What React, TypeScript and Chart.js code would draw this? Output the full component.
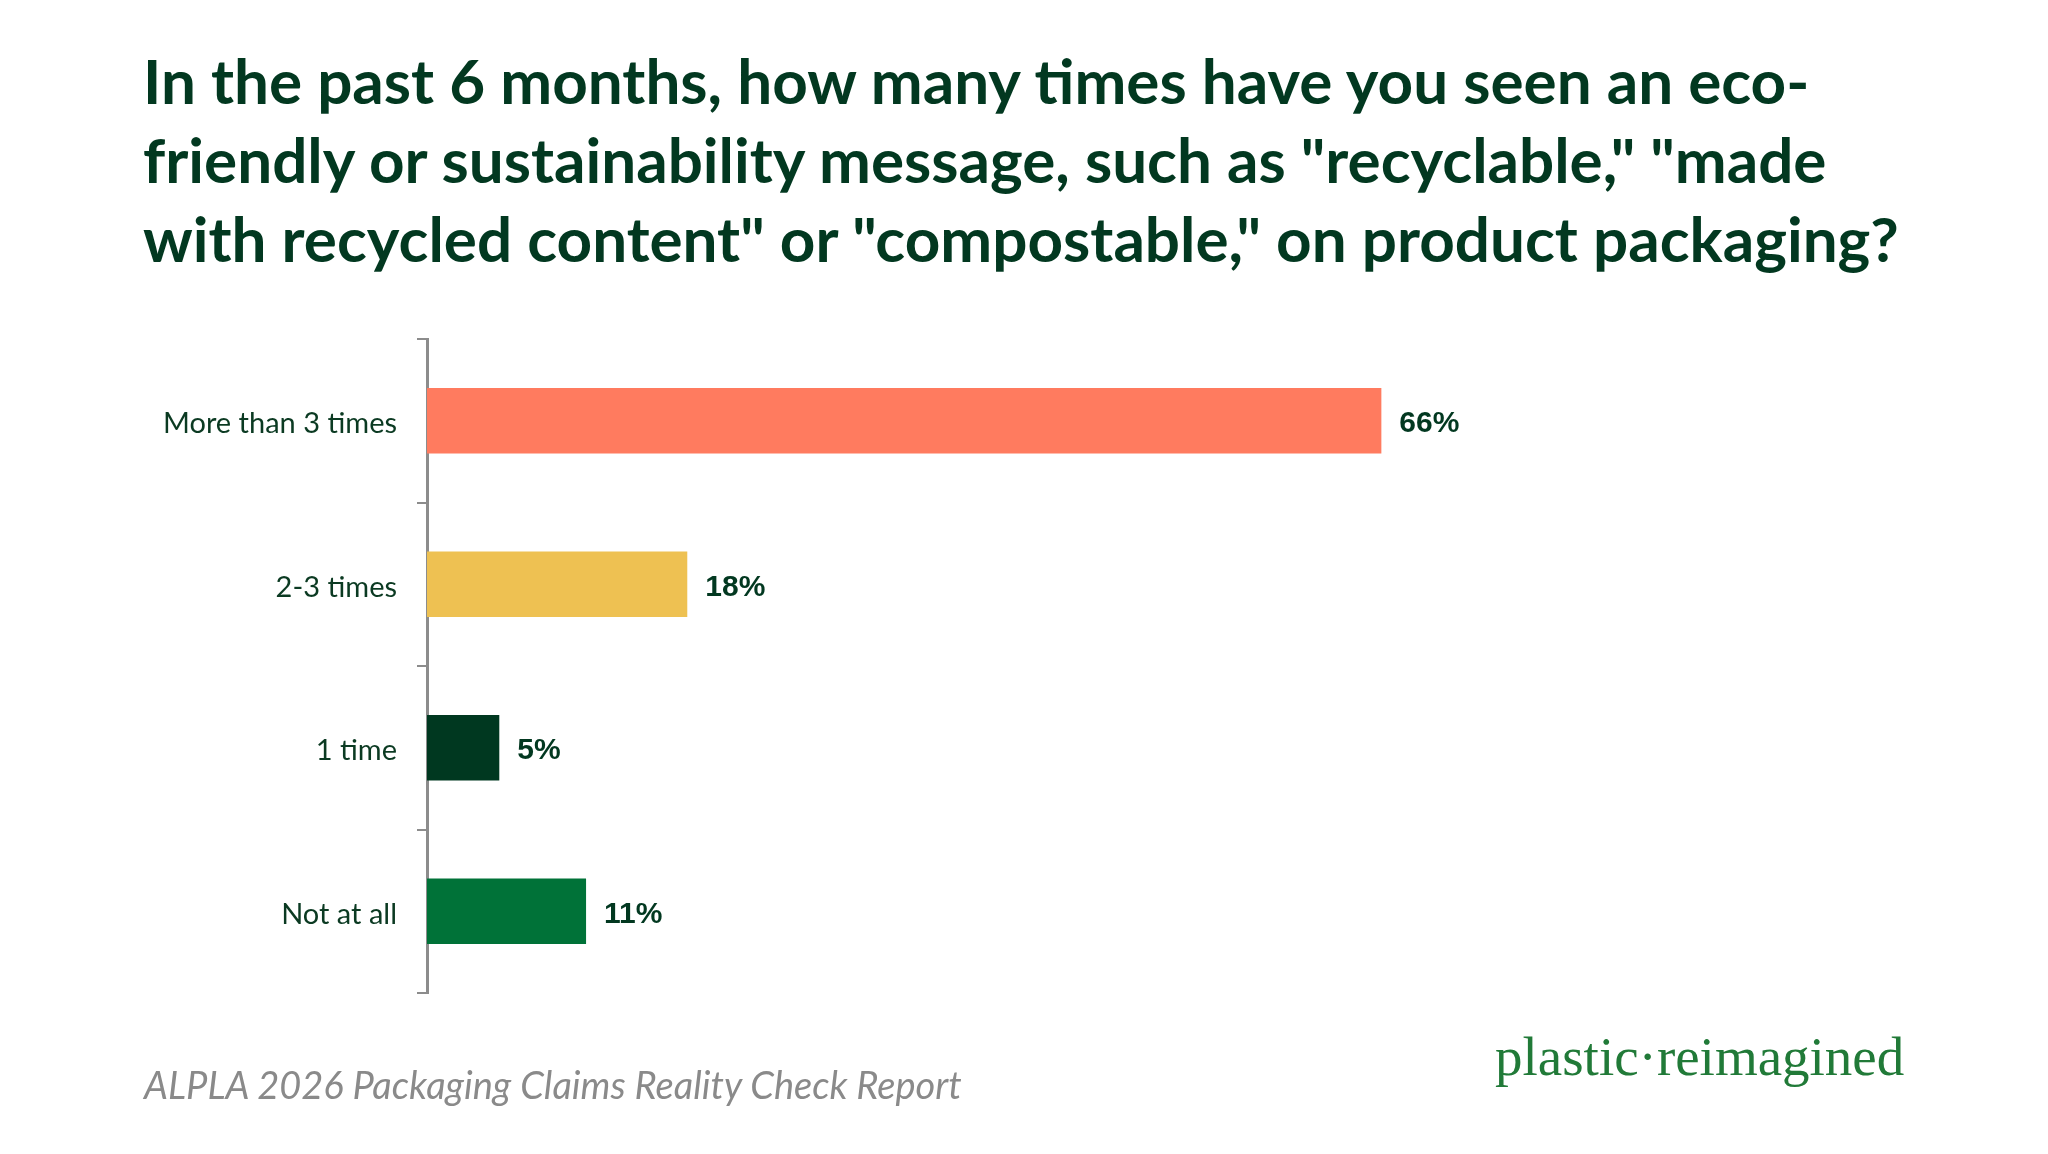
import React, { useEffect, useRef } from "react";
import { Chart, registerables } from "chart.js";

Chart.register(...registerables);

const categories = ["More than 3 times", "2-3 times", "1 time", "Not at all"];
const values = [66, 18, 5, 11];
const barColors = ["#FF7B5F", "#EEC152", "#003820", "#007238"];
const titleLines = [
  "In the past 6 months, how many times have you seen an eco-",
  "friendly or sustainability message, such as \"recyclable,\" \"made",
  "with recycled content\" or \"compostable,\" on product packaging?",
];
const footerText = "ALPLA 2026 Packaging Claims Reality Check Report";
const logoText = "plastic\u00b7reimagined";

const DARK_GREEN = "#023820";

const valueLabelPlugin = {
  id: "valueLabels",
  afterDatasetsDraw(chart: any) {
    const ctx = chart.ctx;
    const meta = chart.getDatasetMeta(0);
    ctx.save();
    ctx.font = "bold 30px 'Liberation Sans', Arial, sans-serif";
    ctx.fillStyle = DARK_GREEN;
    ctx.textAlign = "left";
    ctx.textBaseline = "middle";
    meta.data.forEach((bar: any, i: number) => {
      const v = chart.data.datasets[0].data[i];
      ctx.fillText(`${v}%`, bar.x + 18, bar.y + 3);
    });
    ctx.restore();
  },
};

export default function App() {
  const canvasRef = useRef<HTMLCanvasElement | null>(null);

  useEffect(() => {
    if (!canvasRef.current) return;
    const chart = new Chart(canvasRef.current, {
      type: "bar",
      data: {
        labels: categories,
        datasets: [
          {
            data: values,
            backgroundColor: barColors,
            borderWidth: 0,
            barPercentage: 0.4,
            categoryPercentage: 1,
          },
        ],
      },
      options: {
        indexAxis: "y",
        responsive: false,
        animation: false,
        layout: { padding: { top: 339, bottom: 161, right: 175, left: 0 } },
        plugins: {
          legend: { display: false },
          tooltip: { enabled: false },
          title: { display: false },
        },
        scales: {
          x: { display: false, min: 0, max: 100 },
          y: {
            afterFit: (scale: any) => {
              scale.width = 427;
            },
            grid: {
              drawOnChartArea: false,
              drawTicks: true,
              tickLength: 10,
              color: "#8c8c8c",
              lineWidth: 2,
              offset: true,
            },
            border: { display: true, color: "#8c8c8c", width: 3 },
            ticks: {
              padding: 20,
              labelOffset: 3,
              color: "#0b3a22",
              font: { family: "Lato, 'Open Sans', sans-serif", size: 29 },
            },
          },
        },
      },
      plugins: [valueLabelPlugin],
    });
    return () => chart.destroy();
  }, []);

  return (
    <div
      style={{
        position: "absolute",
        left: 0,
        top: 0,
        width: 2048,
        height: 1154,
        background: "#ffffff",
        overflow: "hidden",
      }}
    >
      <div
        style={{
          position: "absolute",
          left: 143,
          top: 41,
          fontFamily: "Lato, 'Open Sans', sans-serif",
          fontWeight: 700,
          fontSize: 62,
          lineHeight: "79px",
          color: DARK_GREEN,
          whiteSpace: "pre",
        }}
      >
        {titleLines.map((l, i) => (
          <div key={i}>{l}</div>
        ))}
      </div>
      <canvas
        ref={canvasRef}
        width={2048}
        height={1154}
        style={{ position: "absolute", left: 0, top: 0, width: 2048, height: 1154 }}
      />
      <div
        style={{
          position: "absolute",
          left: 144,
          top: 1061,
          fontFamily: "Lato, 'Open Sans', sans-serif",
          fontStyle: "italic",
          fontSize: 38,
          lineHeight: "46px",
          color: "#8a8a8a",
          whiteSpace: "pre",
        }}
      >
        {footerText}
      </div>
      <div
        style={{
          position: "absolute",
          left: 1495,
          top: 1026,
          fontFamily: "'Liberation Serif', serif",
          fontSize: 55,
          lineHeight: "62px",
          color: "#217a38",
          whiteSpace: "pre",
        }}
      >
        {logoText}
      </div>
    </div>
  );
}
